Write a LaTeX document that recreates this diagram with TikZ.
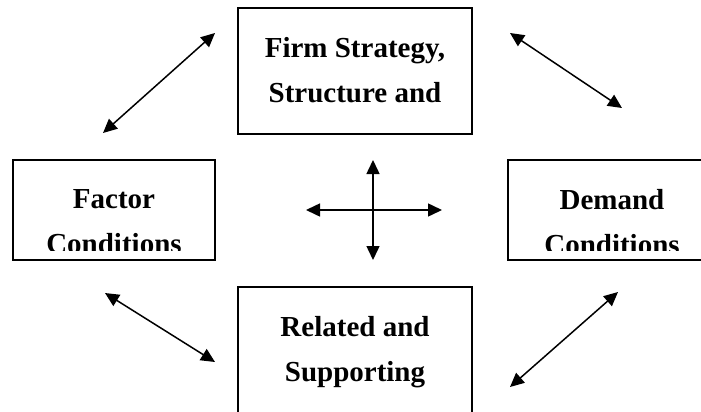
\documentclass[tikz,border=0pt]{standalone}
\usepackage{fontspec}
\setmainfont{Liberation Serif}
\usetikzlibrary{arrows.meta}

\begin{document}
\begin{tikzpicture}[x=1pt,y=-1pt,
  box/.style={draw,line width=1.8pt,inner sep=0pt},
  lbl/.style={font=\bfseries\fontsize{29}{45}\selectfont,align=center,anchor=north,inner sep=0pt},
  link/.style={{Triangle[length=14pt,width=13pt]}-{Triangle[length=14pt,width=13pt]},line width=1.5pt}]
       \clip(0,0)rectangle(701,412);
       \node[box,minimum width=234pt,minimum height=126pt](strategy)at(355,71){};
       \node[box,minimum width=202pt,minimum height=100pt](factor)at(114,210){};
       \node[box,minimum width=202pt,minimum height=100pt](demand)at(609,210){};
       \node[box,minimum width=234pt,minimum height=140pt](related)at(355,357){};
       \node[lbl](strategytext)at(355,37){Firm Strategy,\\Structure and};
       \node[lbl](relatedtext)at(355,316){Related and\\Supporting};
       \begin{scope}
         \clip([xshift=2pt,yshift=10pt]factor.south west)rectangle(factor.north east);
         \node[lbl](factortext)at(114,189){Factor\\Conditions};
       \end{scope}
       \begin{scope}
         \clip([xshift=2pt,yshift=10pt]demand.south west)rectangle(demand.north east);
         \node[lbl](demandtext)at(612,189){Demand\\Conditions};
       \end{scope}
       \coordinate(up)at(373,160);
       \coordinate(down)at(373,260);
       \coordinate(west)at(306,210);
       \coordinate(east)at(442,210);
       \coordinate(nw1)at(103,133);
       \coordinate(nw2)at(215,33);
       \coordinate(ne1)at(510,33);
       \coordinate(ne2)at(622,108);
       \coordinate(sw1)at(105,293);
       \coordinate(sw2)at(215,362);
       \coordinate(se1)at(618,292);
       \coordinate(se2)at(510,387);
       \draw[link](up)--(down);
       \draw[link](west)--(east);
       \draw[link](nw1)--(nw2);
       \draw[link](ne1)--(ne2);
       \draw[link](sw1)--(sw2);
       \draw[link](se1)--(se2);
      \end{tikzpicture}
\end{document}
